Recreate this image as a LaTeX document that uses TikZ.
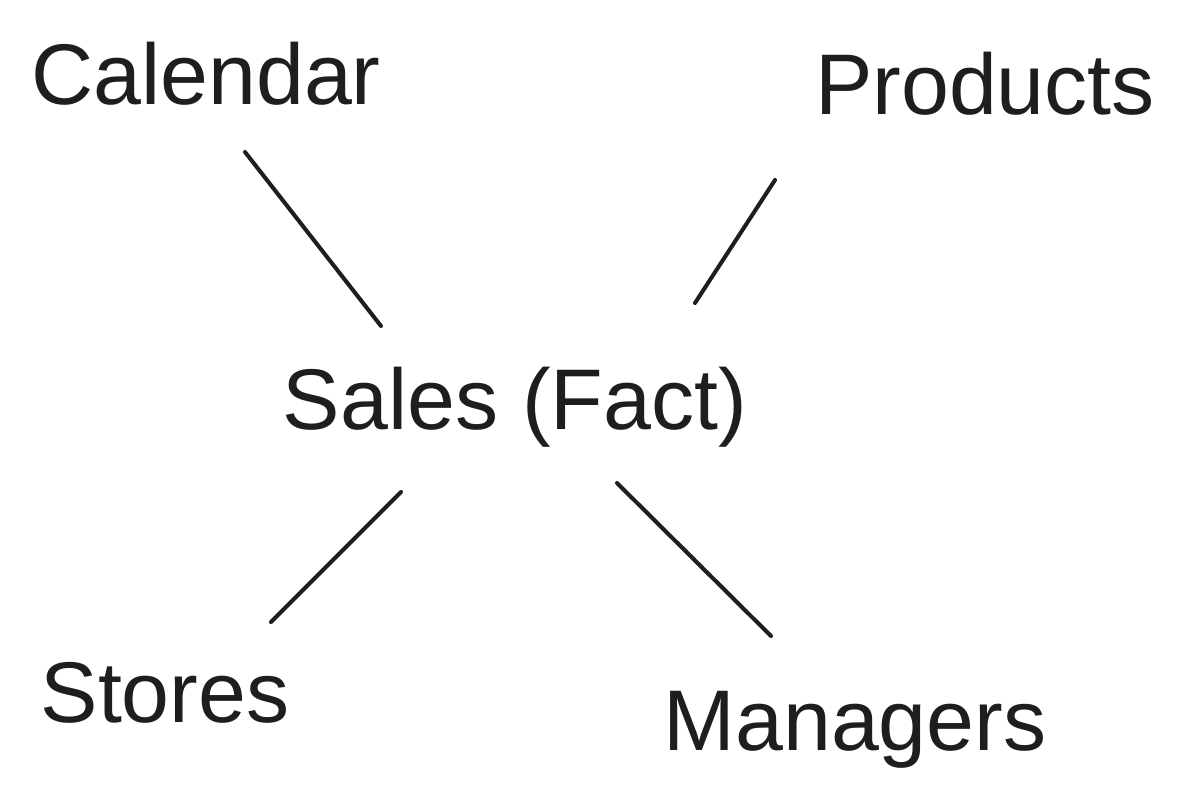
\documentclass[tikz,border=0pt]{standalone}
\usepackage{fontspec}
\setmainfont{Liberation Sans}
\usepackage{tikz}
\usetikzlibrary{positioning}
\definecolor{ink}{HTML}{1E1E1E}

\begin{document}
\begin{tikzpicture}[
            lbl/.style={anchor=base, inner sep=0pt, text=ink, font=\fontsize{49}{59}\selectfont},
            link/.style={draw=ink, line width=2.3pt, line cap=round}]

            \useasboundingbox (0,0) rectangle (24.06,-16.14);

            \node[lbl] (cal) at (4.12,-2.1) {Calendar};
            \node[lbl] (prod) at (19.7,-2.3) {Products};
            \node[lbl] (sales) at (10.3,-8.6) {Sales (Fact)};
            \node[lbl] (sto) at (3.3,-14.44) {Stores};
            \node[lbl] (man) at (17.1,-15.0) {Managers};

            \coordinate (cal-a) at (4.9,-3.04);
            \coordinate (cal-b) at (7.62,-6.52);
            \coordinate (prod-a) at (15.5,-3.6);
            \coordinate (prod-b) at (13.9,-6.06);
            \coordinate (sto-a) at (5.42,-12.44);
            \coordinate (sto-b) at (8.02,-9.84);
            \coordinate (man-a) at (15.42,-12.72);
            \coordinate (man-b) at (12.34,-9.66);

            \draw[link] (cal-a) -- (cal-b);
            \draw[link] (prod-a) -- (prod-b);
            \draw[link] (sto-a) -- (sto-b);
            \draw[link] (man-a) -- (man-b);
        \end{tikzpicture}
\end{document}
